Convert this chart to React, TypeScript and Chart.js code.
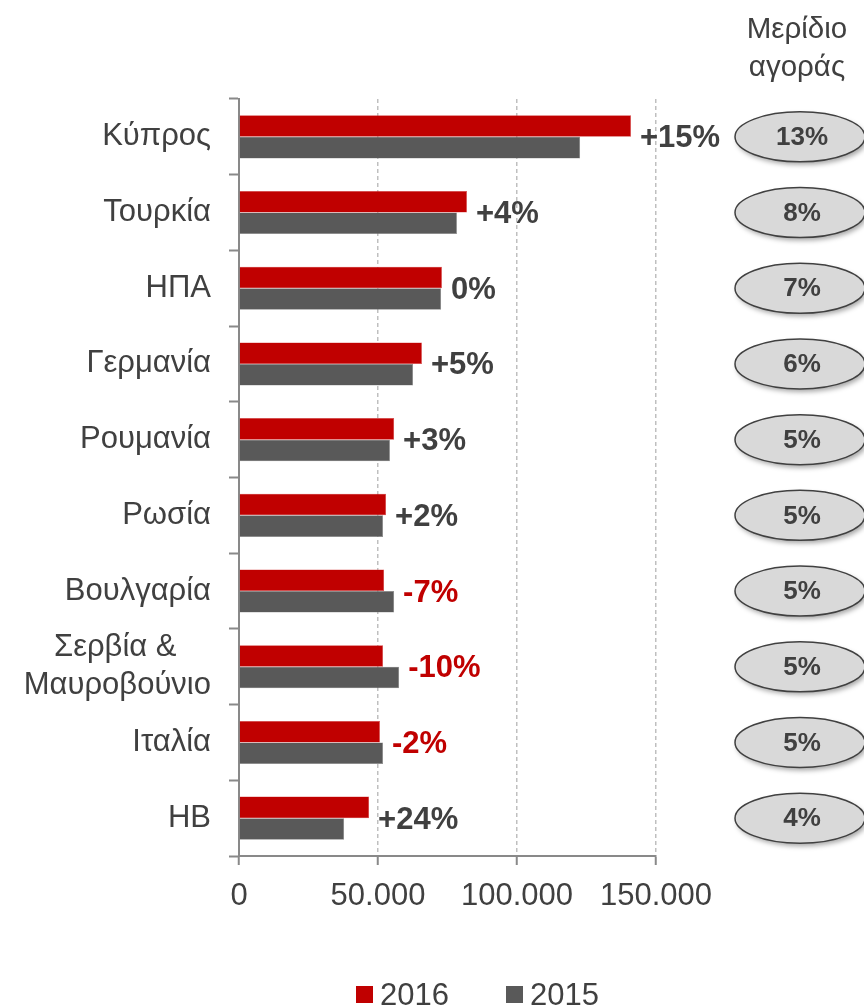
import React, { useEffect, useRef } from "react";
import { Chart, registerables } from "chart.js";

Chart.register(...registerables);

const categories: (string | string[])[] = [
  "Κύπρος",
  "Τουρκία",
  "ΗΠΑ",
  "Γερμανία",
  "Ρουμανία",
  "Ρωσία",
  "Βουλγαρία",
  ["Σερβία &\u00A0\u00A0\u00A0\u00A0", "Μαυροβούνιο"],
  "Ιταλία",
  "ΗΒ",
];
const values2016 = [141000, 82000, 73000, 65800, 55800, 52900, 52200, 51800, 50700, 46800];
const values2015 = [122700, 78400, 72700, 62600, 54300, 51800, 55800, 57600, 51800, 37800];
const changeLabels = ["+15%", "+4%", "0%", "+5%", "+3%", "+2%", "-7%", "-10%", "-2%", "+24%"];
const marketShare = ["13%", "8%", "7%", "6%", "5%", "5%", "5%", "5%", "5%", "4%"];
const xTicks = [0, 50000, 100000, 150000];
const headerLines = ["Μερίδιο", "αγοράς"];
const seriesNames = ["2016", "2015"];

const RED = "#C00000";
const GRAY = "#595959";
const TEXT = "#404040";
const FONT = "'Liberation Sans', Arial, sans-serif";

const fmt = (v: number) => String(v).replace(/\B(?=(\d{3})+(?!\d))/g, ".");

export default function App() {
  const ref = useRef<HTMLCanvasElement>(null);
  useEffect(() => {
    if (!ref.current) return;
    const overlay = {
      id: "overlay",
      afterDraw(chart: any) {
        const ctx = chart.ctx;
        const xs = chart.scales.x;
        const ys = chart.scales.y;
        ctx.save();
        // header
        ctx.fillStyle = TEXT;
        ctx.font = `29.5px ${FONT}`;
        ctx.textAlign = "center";
        ctx.textBaseline = "middle";
        headerLines.forEach((l, i) => ctx.fillText(l, 797, 30 + i * 38));
        categories.forEach((_, i) => {
          const yc = ys.getPixelForValue(i);
          const mx = Math.max(values2016[i], values2015[i]);
          const x = xs.getPixelForValue(mx) + 9;
          const lbl = changeLabels[i];
          ctx.font = `bold 31px ${FONT}`;
          ctx.textAlign = "left";
          ctx.textBaseline = "middle";
          ctx.fillStyle = lbl.startsWith("-") ? RED : TEXT;
          ctx.fillText(lbl, x, yc + 2);
          // ellipse
          ctx.save();
          ctx.shadowColor = "rgba(0,0,0,0.35)";
          ctx.shadowBlur = 5;
          ctx.shadowOffsetX = 2;
          ctx.shadowOffsetY = 3;
          ctx.beginPath();
          ctx.ellipse(800, yc, 65, 25, 0, 0, Math.PI * 2);
          ctx.fillStyle = "#D9D9D9";
          ctx.fill();
          ctx.restore();
          ctx.beginPath();
          ctx.ellipse(800, yc, 65, 25, 0, 0, Math.PI * 2);
          ctx.strokeStyle = "#404040";
          ctx.lineWidth = 1.5;
          ctx.stroke();
          ctx.font = `bold 26px ${FONT}`;
          ctx.textAlign = "center";
          ctx.fillStyle = TEXT;
          ctx.fillText(marketShare[i], 802, yc + 1);
        });
        // legend
        const legendItems = [
          { x: 356, color: RED },
          { x: 506, color: GRAY },
        ];
        ctx.font = `31px ${FONT}`;
        ctx.textAlign = "left";
        ctx.textBaseline = "middle";
        legendItems.forEach((it, i) => {
          ctx.fillStyle = it.color;
          ctx.fillRect(it.x, 986, 17, 17);
          ctx.fillStyle = TEXT;
          ctx.fillText(seriesNames[i], it.x + 24, 996);
        });
        ctx.restore();
      },
    };
    const chart = new Chart(ref.current, {
      type: "bar",
      data: {
        labels: categories,
        datasets: [
          { label: seriesNames[0], data: values2016, backgroundColor: RED, borderColor: "#D84040", borderWidth: 0.5 },
          { label: seriesNames[1], data: values2015, backgroundColor: GRAY, borderColor: "#888888", borderWidth: 0.5 },
        ],
      },
      options: {
        indexAxis: "y",
        animation: false,
        responsive: false,
        maintainAspectRatio: false,
        datasets: { bar: { categoryPercentage: 0.57, barPercentage: 1 } },
        layout: { padding: { top: 99, right: 208, left: 0, bottom: 0 } },
        plugins: { legend: { display: false }, tooltip: { enabled: false } },
        scales: {
          x: {
            min: 0,
            max: 150000,
            afterBuildTicks: (s: any) => {
              s.ticks = xTicks.map((v) => ({ value: v }));
            },
            afterFit: (s: any) => {
              s.height = 152;
            },
            ticks: {
              callback: (v: any) => fmt(Number(v)),
              color: TEXT,
              font: { family: FONT, size: 31 },
              padding: 13,
              maxRotation: 0,
              autoSkip: false,
            },
            grid: {
              color: (c: any) => (c.tick && c.tick.value === 0 ? "rgba(0,0,0,0)" : "#BFBFBF"),
              lineWidth: 1.5,
              tickBorderDash: [],
              tickColor: "#898989",
              tickLength: 9,
              tickWidth: 2,
            },
            border: { color: "#898989", width: 2, dash: [4, 3] },
          },
          y: {
            afterFit: (s: any) => {
              s.width = 239;
            },
            ticks: {
              color: TEXT,
              font: { family: FONT, size: 31, lineHeight: 1.22 },
              padding: 18,
              autoSkip: false,
            },
            grid: {
              offset: true,
              drawOnChartArea: false,
              tickLength: 10,
              tickColor: "#898989",
              tickWidth: 2,
            },
            border: { color: "#898989", width: 2 },
          },
        },
      },
      plugins: [overlay],
    });
    return () => chart.destroy();
  }, []);
  return (
    <div style={{ position: "absolute", left: 0, top: 0, width: 864, height: 1008 }}>
      <canvas ref={ref} width={864} height={1008} style={{ width: 864, height: 1008 }} />
    </div>
  );
}
